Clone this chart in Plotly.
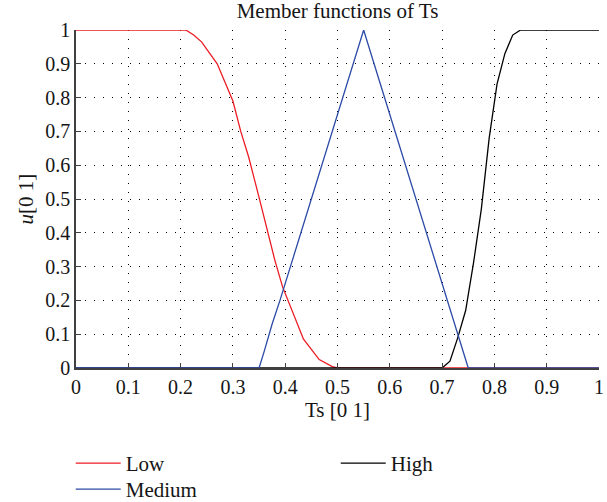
import plotly.graph_objects as go

# Data
low_x = [0, 0.21, 0.225, 0.24, 0.27, 0.30, 0.315, 0.33, 0.35, 0.365, 0.38, 0.395, 0.41, 0.435, 0.465, 0.49, 0.5, 1]
low_y = [1, 1, 0.985, 0.965, 0.90, 0.79, 0.70, 0.625, 0.505, 0.41, 0.32, 0.24, 0.18, 0.085, 0.025, 0.004, 0, 0]

med_x = [0, 0.35, 0.36, 0.375, 0.39, 0.42, 0.45, 0.47, 0.5, 0.52, 0.55, 0.58, 0.6, 0.63, 0.65, 0.68, 0.71, 0.75, 1]
med_y = [0, 0, 0.05, 0.13, 0.2, 0.35, 0.5, 0.6, 0.75, 0.85, 1, 0.85, 0.75, 0.6, 0.5, 0.35, 0.2, 0, 0]

high_x = [0, 0.7, 0.715, 0.73, 0.745, 0.76, 0.775, 0.79, 0.805, 0.82, 0.835, 0.85, 1]
high_y = [0, 0, 0.02, 0.09, 0.17, 0.31, 0.47, 0.68, 0.84, 0.93, 0.985, 1, 1]

tick_vals = [0, 0.1, 0.2, 0.3, 0.4, 0.5, 0.6, 0.7, 0.8, 0.9, 1]
tick_text = ["0", "0.1", "0.2", "0.3", "0.4", "0.5", "0.6", "0.7", "0.8", "0.9", "1"]

FONT = "Liberation Serif"
RED = "#ec1c24"
BLUE = "#2b4aa6"
BLACK = "#000000"
TXT = "#151515"

fig = go.Figure()
fig.add_trace(go.Scatter(x=low_x, y=low_y, mode="lines", name="Low",
                         line=dict(color=RED, width=1.3), legend="legend"))
fig.add_trace(go.Scatter(x=high_x, y=high_y, mode="lines", name="High",
                         line=dict(color=BLACK, width=1.3), legend="legend2"))
fig.add_trace(go.Scatter(x=med_x, y=med_y, mode="lines", name="Medium",
                         line=dict(color=BLUE, width=1.3), legend="legend3"))

axis_common = dict(
    range=[0, 1],
    tickvals=tick_vals,
    ticktext=tick_text,
    showgrid=True,
    gridcolor="#000000",
    gridwidth=1,
    griddash="1px,8px",
    showline=True,
    linecolor="#404040",
    linewidth=1.5,
    ticks="inside",
    ticklen=5,
    tickcolor="#404040",
    zeroline=False,
    ticklabeloverflow="allow",
    tickfont=dict(family=FONT, size=20, color=TXT),
)

legend_common = dict(
    orientation="h", xref="container", xanchor="left",
    yref="container", yanchor="top",
    itemwidth=45,
    font=dict(family=FONT, size=21, color=TXT),
    bgcolor="rgba(0,0,0,0)",
)

fig.update_layout(
    width=607,
    height=502,
    margin=dict(l=76, r=3, t=30, b=134),
    paper_bgcolor="white",
    plot_bgcolor="white",
    title=dict(text="Member functions of Ts", x=0.5, xref="paper", xanchor="center",
               y=0.978, yref="container", yanchor="middle",
               font=dict(family=FONT, size=21, color=TXT)),
    xaxis=dict(axis_common, title=dict(text="Ts [0 1]", standoff=6,
                                       font=dict(family=FONT, size=21, color=TXT))),
    yaxis=dict(axis_common, title=dict(text="<i>u</i>[0 1]", standoff=6,
                                       font=dict(family=FONT, size=21, color=TXT))),
    showlegend=True,
    legend=dict(legend_common, x=0.1165, y=0.1175),
    legend2=dict(legend_common, x=0.5531, y=0.1175),
    legend3=dict(legend_common, x=0.1165, y=0.0657),
)

fig.write_html("out.html")
